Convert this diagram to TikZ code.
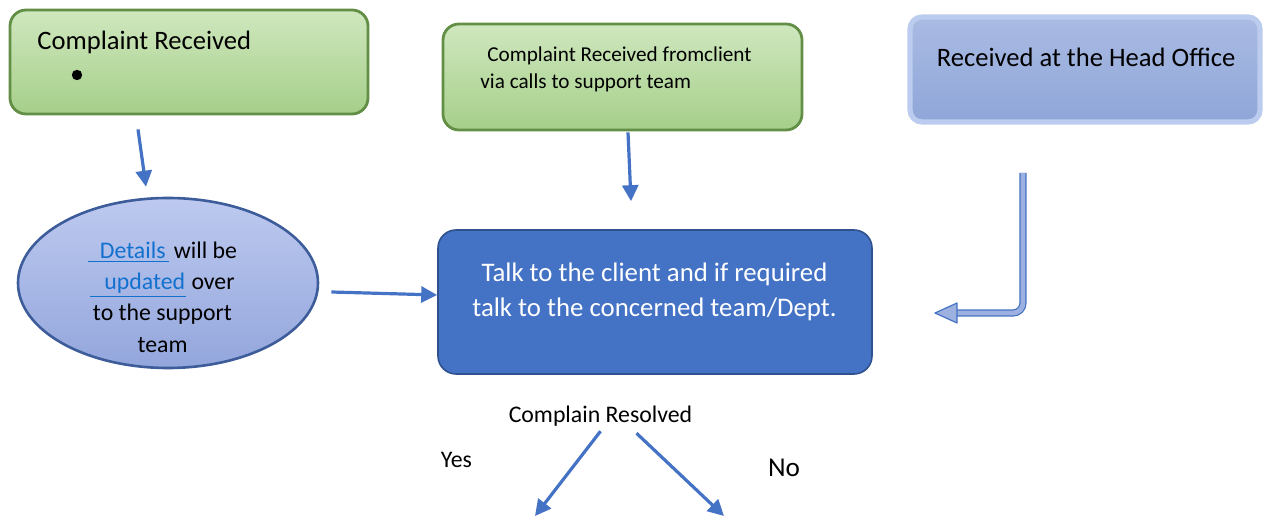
\documentclass[tikz,border=0pt]{standalone}
\usepackage{fontspec}
\setmainfont{Carlito}
\usetikzlibrary{arrows.meta,shapes.geometric}
\definecolor{arrowblue}{HTML}{4472C4}
\definecolor{mainedge}{HTML}{2F528F}
\definecolor{greentop}{HTML}{CFE7BE}
\definecolor{greenbot}{HTML}{A6CF8A}
\definecolor{greenedge}{HTML}{628F45}
\definecolor{hotop}{HTML}{AABBE3}
\definecolor{hobot}{HTML}{8FA6D8}
\definecolor{hoedge}{HTML}{BCCCEE}
\definecolor{elltop}{HTML}{BDC9EF}
\definecolor{ellbot}{HTML}{93A6DC}
\definecolor{elledge}{HTML}{3D5C9A}
\definecolor{linkblue}{HTML}{1271CF}
\definecolor{elbowfill}{HTML}{9DB1E0}

\begin{document}
\begin{tikzpicture}[x=0.5pt,y=-0.5pt,
  flow/.style={-{Triangle[length=8pt,width=8pt]},draw=arrowblue,line width=1.6pt},
  greenbox/.style={rectangle,rounded corners=8pt,top color=greentop,bottom color=greenbot,draw=greenedge,line width=1.4pt},
  hobox/.style={rectangle,rounded corners=6pt,top color=hotop,bottom color=hobot,draw=hoedge,line width=2.6pt},
  bigtext/.style={inner sep=0pt,font=\fontsize{13.3}{16}\selectfont},
  smalltext/.style={inner sep=0pt,font=\fontsize{10.6}{13}\selectfont},
  labeltext/.style={inner sep=1pt,font=\fontsize{11.9}{14}\selectfont}]

\useasboundingbox (0,0) rectangle (1264,517);

\node[greenbox,minimum width=179pt,minimum height=52pt] (recv) at (189,62) {};
\node[bigtext,anchor=base west] (recvtxt) at (37,50) {Complaint Received};
\node[circle,fill=black,inner sep=0pt,minimum size=5.2pt] (dot) at (77,75) {};

\node[greenbox,minimum width=179.5pt,minimum height=53pt] (call) at (622.5,77) {};
\node[smalltext,anchor=base west] (calltxta) at (487,62) {Complaint Received fromclient};
\node[smalltext,anchor=base west] (calltxtb) at (480,89) {via calls to support team};

\node[hobox,minimum width=175pt,minimum height=52.5pt] (head) at (1085,69.5) {};
\node[bigtext,anchor=base] (headtxt) at (1086,67) {Received at the Head Office};

\node[ellipse,inner sep=0pt,minimum width=150pt,minimum height=85pt,top color=elltop,bottom color=ellbot,draw=elledge,line width=1.3pt] (details) at (168,283) {};
\node[inner sep=0pt,align=center,font=\fontsize{11.9}{15.7}\selectfont] (detailstxt) at (162.5,297)
  {\textcolor{linkblue}{\underline{\hspace{6pt}Details\hspace{1.5pt}}} will be\\
   \textcolor{linkblue}{\underline{\hspace{7pt}updated\hspace{0.5pt}}} over\\
   to the support\\ team};

\node[rectangle,rounded corners=9pt,fill=arrowblue,draw=mainedge,line width=0.8pt,minimum width=217pt,minimum height=72pt] (main) at (655,302) {};
\node[inner sep=0pt,align=center,text=white,font=\fontsize{13.4}{17.3}\selectfont] (maintxt) at (654.5,292)
  {Talk to the client and if required\\talk to the concerned team/Dept.};

\node[labeltext,anchor=base] (resolved) at (600.5,423) {Complain Resolved};
\node[labeltext,anchor=base] (yes) at (456.5,468) {Yes};
\node[inner sep=1pt,anchor=base,font=\fontsize{13.6}{15}\selectfont] (no) at (784,477) {No};

\coordinate (hotail) at (1023,173);
\coordinate (hobase) at (957,313);
\coordinate (hotip) at (935,313);
\coordinate (yesend) at (535,516);
\coordinate (noend) at (724,516);

\draw[flow] ([xshift=-25.5pt,yshift=-7pt]recv.south) -- ([xshift=-11pt,yshift=5pt]details.north);
\draw[flow] ([xshift=2.75pt,yshift=-0.5pt]call.south) -- ([xshift=-12pt,yshift=14pt]main.north);
\draw[flow] ([xshift=6pt,yshift=-4.5pt]details.east) -- ([yshift=3.5pt]main.west);

\draw[draw=arrowblue,line width=0.6pt,double=elbowfill,double distance=2.4pt,rounded corners=5pt] (hotail) |- (hobase);
\draw[draw=arrowblue,line width=0.6pt,fill=elbowfill,line join=round] (hotip) -- ([yshift=5pt]hobase) -- ([yshift=-5pt]hobase) -- cycle;

\draw[flow] ([yshift=-1pt]resolved.south) -- (yesend);
\draw[flow] ([xshift=18pt,yshift=-2pt]resolved.south) -- (noend);

\end{tikzpicture}
\end{document}
